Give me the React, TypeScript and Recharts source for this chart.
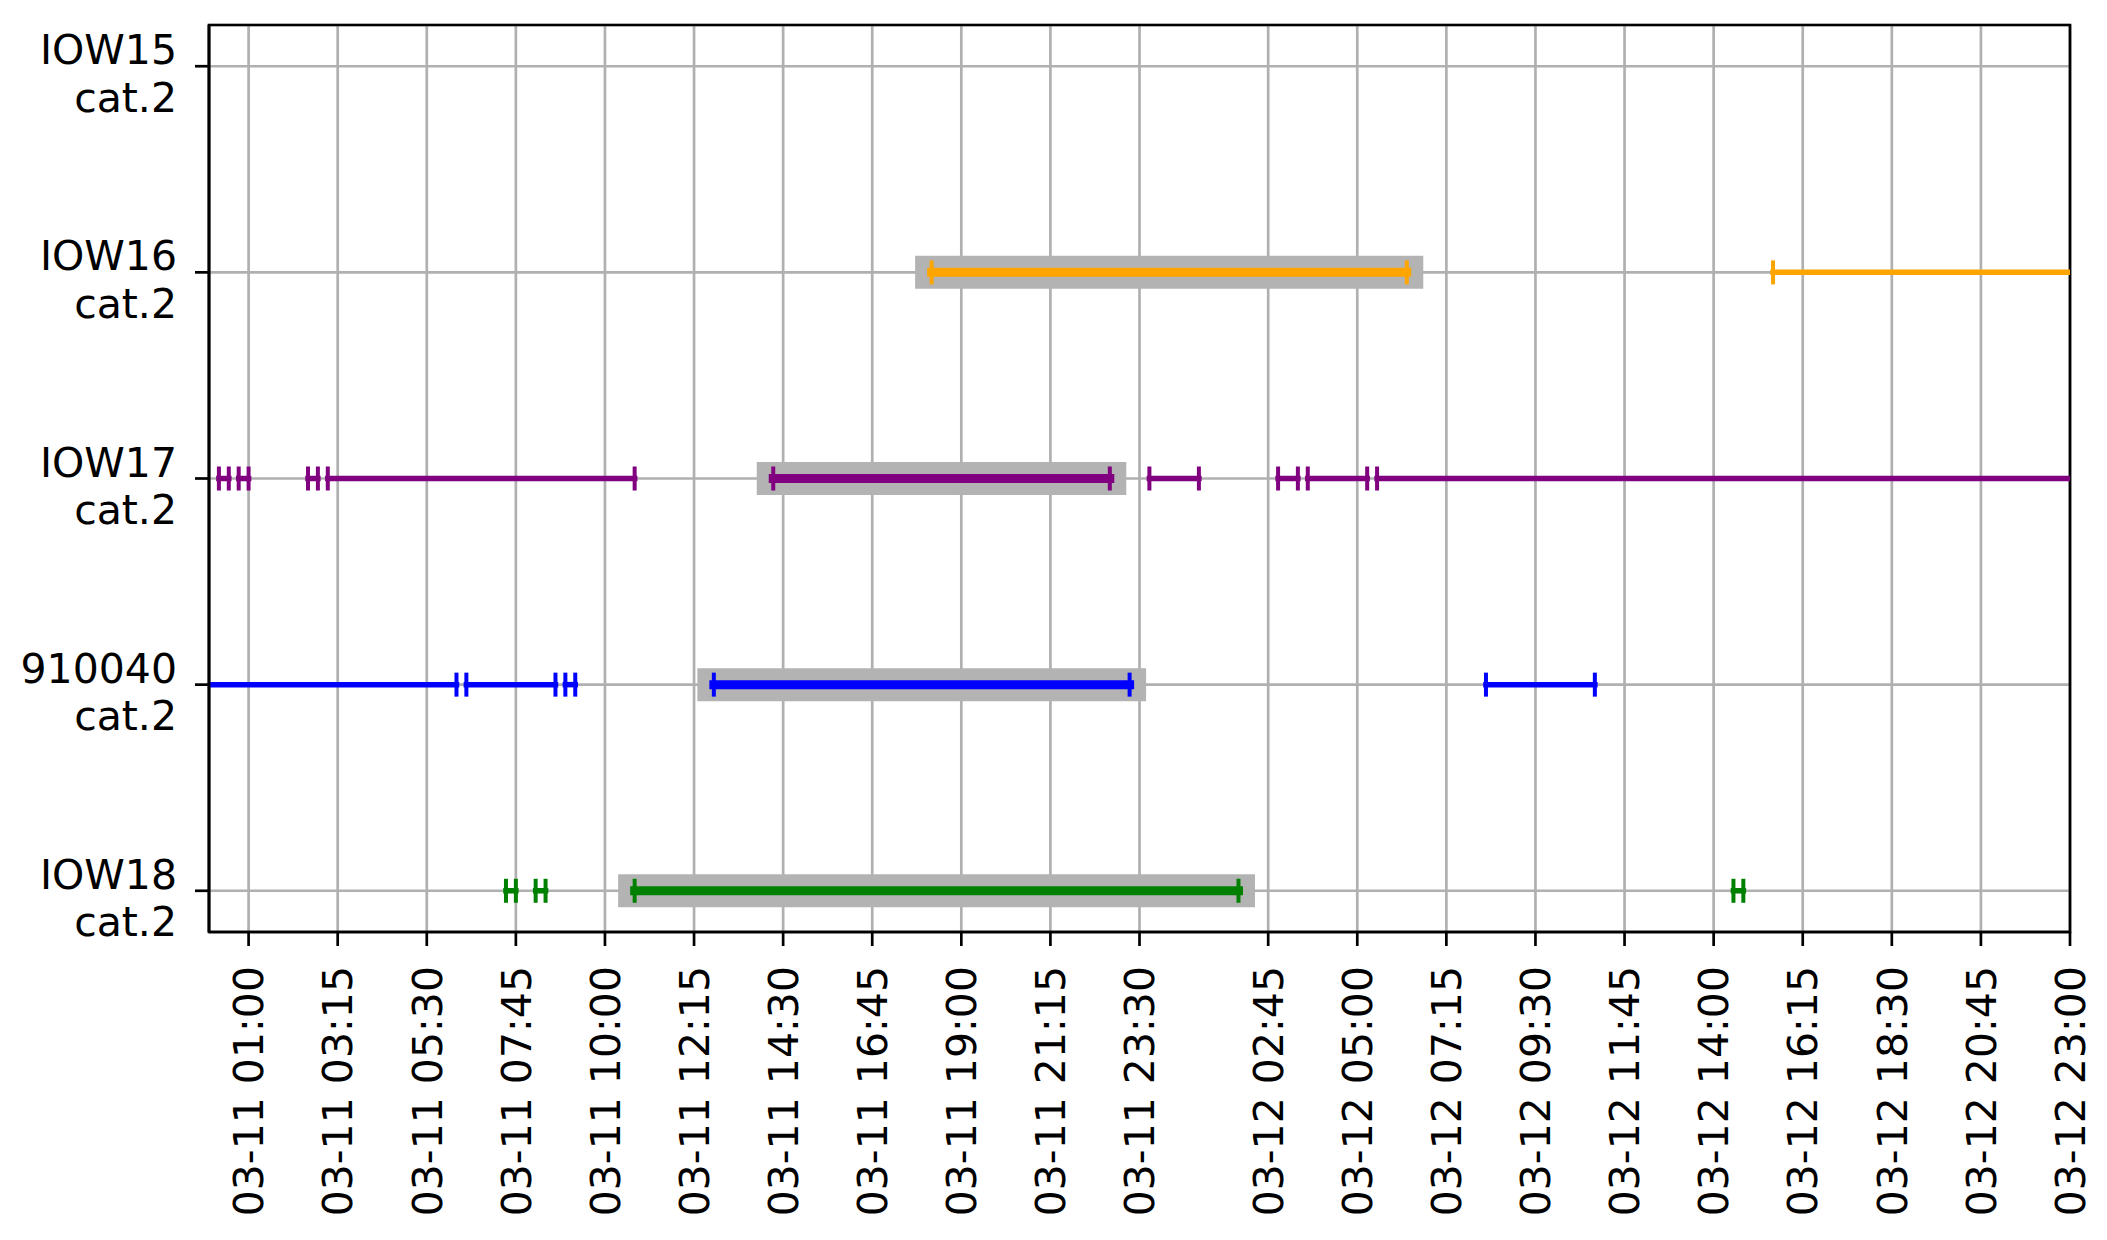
import React from "react";
import {
  ComposedChart,
  Line,
  XAxis,
  YAxis,
  CartesianGrid,
  ReferenceArea,
} from "recharts";

// hours since 03-11 00:00
const hourTicks = [1, 3.25, 5.5, 7.75, 10, 12.25, 14.5, 16.75, 19, 21.25, 23.5, 26.75, 29, 31.25, 33.5, 35.75, 38, 40.25, 42.5, 44.75, 47];
const hourTickLabels = [
  "03-11 01:00", "03-11 03:15", "03-11 05:30", "03-11 07:45", "03-11 10:00",
  "03-11 12:15", "03-11 14:30", "03-11 16:45", "03-11 19:00", "03-11 21:15",
  "03-11 23:30", "03-12 02:45", "03-12 05:00", "03-12 07:15", "03-12 09:30",
  "03-12 11:45", "03-12 14:00", "03-12 16:15", "03-12 18:30", "03-12 20:45",
  "03-12 23:00",
];

// rows bottom -> top
const stations = ["IOW18", "910040", "IOW17", "IOW16", "IOW15"];
const stationCats = ["cat.2", "cat.2", "cat.2", "cat.2", "cat.2"];
const stationColors = ["#008000", "#0000ff", "#800080", "#ffa500", "#000000"];

const iow18Spans: [number, number][] = [[7.5, 7.75], [8.25, 8.5], [10.75, 26.0], [38.5, 38.75]];
const st910040Spans: [number, number][] = [[-1, 6.25], [6.5, 8.75], [9.0, 9.25], [12.75, 23.25], [32.25, 35.0]];
const iow17Spans: [number, number][] = [
  [0.25, 0.5], [0.75, 1.0], [2.5, 2.75], [3.0, 10.75], [14.25, 22.75],
  [23.75, 25.0], [27.0, 27.5], [27.75, 29.25], [29.5, 48],
];
const iow16Spans: [number, number][] = [[18.25, 30.25], [39.5, 48]];
const iow15Spans: [number, number][] = [];

// the selected (highlighted) window of each station
const iow18Main: [number, number] = [10.75, 26.0];
const st910040Main: [number, number] = [12.75, 23.25];
const iow17Main: [number, number] = [14.25, 22.75];
const iow16Main: [number, number] = [18.25, 30.25];

const spansByRow = [iow18Spans, st910040Spans, iow17Spans, iow16Spans, iow15Spans];
const mainByRow: ([number, number] | null)[] = [iow18Main, st910040Main, iow17Main, iow16Main, null];

const FONT = "DejaVu Sans";

const pts = (s: [number, number], row: number) => [
  { x: s[0], y: row },
  { x: s[1], y: row },
];

const XTick = (props: any) => {
  const { x, y, payload } = props;
  const label = hourTickLabels[hourTicks.indexOf(payload.value)];
  return (
    <text
      x={x}
      y={y}
      transform={`rotate(-90 ${x} ${y})`}
      textAnchor="end"
      dy="0.36em"
      fontSize={41}
      fontFamily={FONT}
      fill="#000"
    >
      {label}
    </text>
  );
};

const YTick = (props: any) => {
  const { x, y, payload } = props;
  const i = payload.value;
  return (
    <text x={x} y={y} textAnchor="end" fontSize={41} fontFamily={FONT} fill="#000">
      <tspan x={x} dy={-2}>{stations[i]}</tspan>
      <tspan x={x} dy={47.5}>{stationCats[i]}</tspan>
    </text>
  );
};

const capDot = (color: string) => (p: any) => {
  if (p.cx == null || p.cy == null) return <g key={`c-${p.index}`} />;
  return (
    <line
      key={`c-${p.index}`}
      x1={p.cx}
      x2={p.cx}
      y1={p.cy - 12}
      y2={p.cy + 12}
      stroke={color}
      strokeWidth={4}
    />
  );
};

export default function App() {
  const highlights = mainByRow.map((m, row) =>
    m ? (
      <Line
        key={`hl-${row}`}
        data={pts(m, row)}
        dataKey="y"
        stroke="#b3b3b3"
        strokeWidth={33}
        strokeLinecap="square"
        dot={false}
        activeDot={false}
        isAnimationActive={false}
      />
    ) : null
  );

  const segments = spansByRow.flatMap((spans, row) =>
    spans.map((s, k) => {
      const main = mainByRow[row];
      const isMain = !!main && main[0] === s[0] && main[1] === s[1];
      const color = stationColors[row];
      return (
        <Line
          key={`seg-${row}-${k}`}
          data={pts(s, row)}
          dataKey="y"
          stroke={color}
          strokeWidth={isMain ? 9 : 5.5}
          strokeLinecap="square"
          dot={capDot(color)}
          activeDot={false}
          isAnimationActive={false}
        />
      );
    })
  );

  return (
    <div style={{ position: "absolute", left: 0, top: 0, background: "#fff" }}>
      <ComposedChart width={2107} height={1240} margin={{ top: 25, right: 37, bottom: 0, left: 0 }}>
        <CartesianGrid stroke="#b0b0b0" strokeWidth={2.7} />
        <XAxis
          dataKey="x"
          type="number"
          domain={[0, 47]}
          allowDataOverflow
          ticks={hourTicks}
          interval={0}
          height={308}
          tickSize={14}
          tickMargin={20}
          tick={<XTick />}
          tickLine={{ stroke: "#000", strokeWidth: 2.7 }}
          axisLine={{ stroke: "#000", strokeWidth: 2.7 }}
        />
        <YAxis
          type="number"
          domain={[-0.2, 4.2]}
          allowDataOverflow
          ticks={[0, 1, 2, 3, 4]}
          interval={0}
          width={209}
          tickSize={14}
          tickMargin={18}
          tick={<YTick />}
          tickLine={{ stroke: "#000", strokeWidth: 2.7 }}
          axisLine={{ stroke: "#000", strokeWidth: 2.7 }}
        />
        {highlights}
        {segments}
        <ReferenceArea
          x1={0}
          x2={47}
          y1={-0.2}
          y2={4.2}
          fill="none"
          stroke="#000"
          strokeWidth={2.7}
          ifOverflow="visible"
        />
      </ComposedChart>
    </div>
  );
}
